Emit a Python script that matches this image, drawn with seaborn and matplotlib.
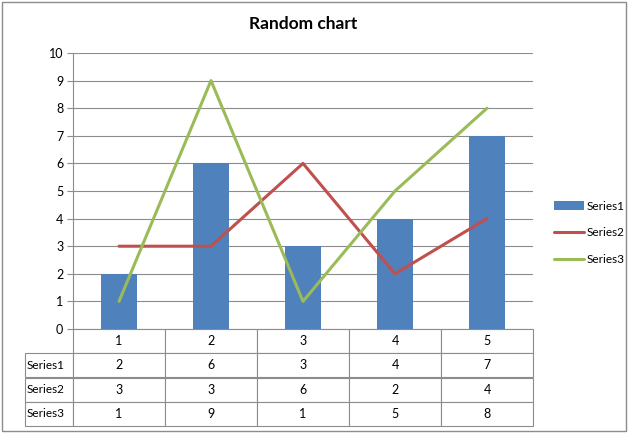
import numpy as np
import pandas as pd
import matplotlib
matplotlib.use("Agg")
import matplotlib.pyplot as plt
from matplotlib.patches import Rectangle
import seaborn as sns

sns.set_style("white")
plt.rcParams["font.family"] = ["Lato", "DejaVu Sans"]
plt.rcParams["text.color"] = "black"
plt.rcParams["ytick.color"] = "black"

# data
categories = ["1", "2", "3", "4", "5"]
series1 = [2, 6, 3, 4, 7]
series2 = [3, 3, 6, 2, 4]
series3 = [1, 9, 1, 5, 8]
series_names = ["Series1", "Series2", "Series3"]
y_ticks = list(range(0, 11))

blue = "#4F81BD"
red = "#C0504D"
green = "#9BBB59"

df = pd.DataFrame({"cat": categories, "pos": range(len(categories)),
                   "Series1": series1, "Series2": series2, "Series3": series3})

fig = plt.figure(figsize=(6.29, 4.33), dpi=100)
ax = fig.add_axes([73/629, 1 - 329/433, 460/629, 276/433])

# grid
for t in y_ticks:
    ax.axhline(t, color="#8c8c8c", lw=0.8, zorder=0)

sns.barplot(data=df, x="pos", y="Series1", color=blue, width=0.4,
            saturation=1, ax=ax, label="Series1", native_scale=True,
            linewidth=0, zorder=2)
sns.lineplot(data=df, x="pos", y="Series2", color=red, lw=2.2, ax=ax,
             label="Series2", zorder=3)
sns.lineplot(data=df, x="pos", y="Series3", color=green, lw=2.2, ax=ax,
             label="Series3", zorder=3)

ax.set_xlim(-0.5, len(categories) - 0.5)
ax.set_ylim(0, 10)
ax.set_yticks(y_ticks)
ax.set_xticks([])
ax.set_xlabel("")
ax.set_ylabel("")
ax.tick_params(axis="y", length=4, color="#8c8c8c", labelcolor="black",
               labelsize=9, pad=3, left=True)
for s in ["top", "right", "bottom"]:
    ax.spines[s].set_visible(False)
ax.spines["left"].set_color("#8c8c8c")
ax.spines["left"].set_linewidth(0.8)

# data table under the axes (first column holds the series names)
rows = [[""] + categories]
for name, vals in zip(series_names, (series1, series2, series3)):
    rows.append([name] + [str(v) for v in vals])
tbl = ax.table(cellText=rows, cellLoc="center",
               colWidths=[48/508] + [92/508] * 5,
               bbox=[-48/460, -97/276, 508/460, 97/276])
tbl.auto_set_font_size(False)
tbl.set_fontsize(9)
for (r, c), cell in tbl.get_celld().items():
    cell.set_edgecolor("#8c8c8c")
    cell.set_linewidth(0.8)
    cell.get_text().set_color("black")
    if c == 0:
        cell.set_text_props(ha="left", fontsize=8.5)
        cell.PAD = 0.04
    if r == 0 and c == 0:
        cell.visible_edges = ""

ax.set_title("Random chart", fontsize=12.5, fontweight="bold", pad=17,
             color="black")

handles, labels = ax.get_legend_handles_labels()
order = [labels.index(n) for n in series_names]
ax.legend([handles[i] for i in order], [labels[i] for i in order],
          loc="center left", bbox_to_anchor=(1.045, 0.348), frameon=False,
          fontsize=8.5, handlelength=2.6, handletextpad=0.2, labelspacing=1.35,
          borderpad=0, borderaxespad=0)

fig.patches.append(Rectangle((0.003, 0.004), 0.993, 0.992, transform=fig.transFigure,
                             fill=False, edgecolor="#8c8c8c", lw=1))

fig.savefig("out.png", dpi=100)
plt.close()
